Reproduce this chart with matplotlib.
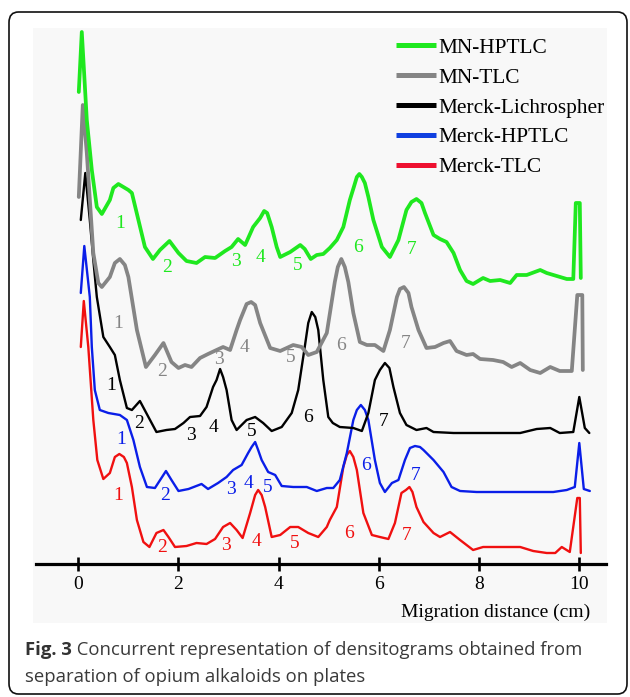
import matplotlib
matplotlib.use("Agg")
import matplotlib.pyplot as plt
from matplotlib.patches import FancyBboxPatch, Rectangle

W, H = 630, 697
DPI = 100

# ---------------- data (x: migration distance in cm, y: detector signal, arbitrary units) ----
green_x = [0.01, 0.07, 0.17, 0.27, 0.37, 0.47, 0.63, 0.70, 0.80, 0.90, 1.00, 1.07, 1.20, 1.33, 1.49,
           1.63, 1.82, 2.00, 2.16, 2.36, 2.53, 2.73, 2.93, 3.06, 3.19, 3.33, 3.49, 3.63, 3.71, 3.77,
           3.86, 3.96, 4.03, 4.23, 4.43, 4.52, 4.64, 4.76, 4.89, 5.02, 5.16, 5.29, 5.42, 5.50, 5.56,
           5.61, 5.66, 5.72, 5.79, 5.89, 6.06, 6.22, 6.39, 6.55, 6.65, 6.75, 6.85, 6.92, 7.09, 7.22,
           7.35, 7.49, 7.62, 7.75, 7.88, 8.08, 8.22, 8.42, 8.62, 8.75, 8.95, 9.22, 9.35, 9.55, 9.75,
           9.88, 9.93, 10.01, 10.03]
green_y = [472, 532, 444, 394, 357, 350, 364, 376, 380, 377, 374, 371, 344, 317, 305,
           314, 323, 311, 303, 301, 307, 306, 313, 317, 325, 319, 337, 346, 353, 351,
           337, 317, 307, 312, 319, 315, 305, 309, 310, 316, 324, 337, 364, 377, 387,
           390, 387, 381, 367, 344, 317, 307, 324, 354, 362, 365, 361, 351, 329, 325,
           322, 311, 294, 283, 280, 286, 283, 284, 281, 289, 289, 294, 291, 288, 285,
           285, 361, 361, 286]

gray_x = [0.01, 0.09, 0.17, 0.30, 0.40, 0.47, 0.63, 0.73, 0.83, 0.93, 1.00, 1.17, 1.35, 1.53, 1.70,
          1.86, 2.00, 2.13, 2.26, 2.43, 2.59, 2.76, 2.89, 3.03, 3.16, 3.23, 3.36, 3.45, 3.53, 3.63,
          3.83, 4.03, 4.29, 4.46, 4.59, 4.76, 4.96, 5.12, 5.18, 5.25, 5.32, 5.39, 5.49, 5.62, 5.76,
          5.92, 6.09, 6.22, 6.36, 6.42, 6.50, 6.59, 6.65, 6.79, 6.95, 7.12, 7.29, 7.42, 7.55, 7.75,
          7.88, 8.02, 8.28, 8.48, 8.65, 8.82, 9.02, 9.22, 9.42, 9.61, 9.85, 9.96, 10.06, 10.07]
gray_y = [367, 459, 411, 311, 281, 277, 287, 301, 305, 299, 287, 234, 197, 209, 221,
          202, 196, 199, 197, 206, 210, 214, 217, 214, 234, 244, 260, 262, 259, 241,
          216, 213, 219, 217, 209, 212, 231, 282, 297, 305, 297, 282, 251, 222, 219,
          219, 213, 234, 267, 275, 277, 271, 257, 234, 216, 217, 221, 223, 213, 209,
          210, 205, 204, 202, 197, 201, 194, 191, 197, 193, 193, 269, 269, 194]

black_x = [0.05, 0.14, 0.23, 0.30, 0.37, 0.50, 0.63, 0.73, 0.83, 0.97, 1.07, 1.23, 1.40, 1.56, 1.76,
           1.93, 2.10, 2.23, 2.43, 2.56, 2.69, 2.76, 2.83, 2.89, 2.96, 3.06, 3.16, 3.36, 3.53, 3.69,
           3.86, 4.06, 4.26, 4.39, 4.52, 4.59, 4.66, 4.73, 4.79, 4.89, 4.99, 5.08, 5.22, 5.49, 5.66,
           5.79, 5.92, 6.02, 6.12, 6.21, 6.29, 6.42, 6.55, 6.75, 6.95, 7.09, 7.49, 8.15, 8.82, 9.15,
           9.42, 9.61, 9.88, 10.00, 10.11, 10.20]
black_y = [344, 391, 344, 304, 267, 227, 217, 209, 184, 156, 154, 163, 147, 132, 134,
           135, 141, 147, 148, 157, 177, 184, 195, 187, 174, 144, 134, 144, 147, 141,
           133, 137, 151, 174, 217, 241, 252, 247, 234, 184, 147, 141, 137, 136, 133,
           151, 184, 194, 201, 196, 177, 151, 139, 134, 136, 132, 131, 131, 131, 135,
           136, 131, 132, 167, 136, 131]

blue_x = [0.05, 0.12, 0.23, 0.27, 0.33, 0.43, 0.60, 0.83, 0.97, 1.10, 1.23, 1.37, 1.53, 1.75, 1.86,
          2.00, 2.20, 2.46, 2.59, 2.79, 2.96, 3.09, 3.26, 3.39, 3.46, 3.53, 3.59, 3.66, 3.79, 3.93,
          4.06, 4.29, 4.56, 4.76, 4.96, 5.09, 5.22, 5.36, 5.49, 5.56, 5.64, 5.72, 5.79, 5.92, 6.02,
          6.12, 6.26, 6.39, 6.52, 6.62, 6.72, 6.82, 6.89, 7.09, 7.29, 7.45, 7.62, 7.95, 8.82, 9.48,
          9.75, 9.91, 10.00, 10.09, 10.21]
blue_y = [271, 318, 267, 217, 174, 154, 151, 149, 144, 124, 97, 77, 76, 93, 84,
          73, 75, 80, 75, 81, 87, 94, 99, 111, 117, 122, 114, 104, 92, 89,
          78, 77, 77, 73, 76, 76, 84, 111, 144, 154, 159, 154, 144, 104, 81,
          72, 81, 84, 104, 116, 118, 117, 114, 104, 92, 77, 73, 72, 72, 72,
          74, 77, 121, 75, 73]

red_x = [0.05, 0.11, 0.20, 0.30, 0.38, 0.50, 0.63, 0.73, 0.82, 0.91, 0.97, 1.07, 1.17, 1.30, 1.42,
         1.56, 1.70, 1.80, 1.93, 2.16, 2.36, 2.56, 2.73, 2.89, 3.03, 3.16, 3.28, 3.43, 3.53, 3.59,
         3.66, 3.73, 3.86, 4.03, 4.23, 4.39, 4.59, 4.79, 4.96, 5.02, 5.16, 5.29, 5.36, 5.42, 5.49,
         5.56, 5.69, 5.86, 6.02, 6.19, 6.32, 6.45, 6.54, 6.61, 6.67, 6.75, 6.89, 7.09, 7.22, 7.42,
         7.62, 7.88, 8.08, 8.28, 8.55, 8.82, 9.08, 9.35, 9.52, 9.65, 9.81, 9.96, 10.01, 10.03]
red_y = [217, 263, 217, 144, 104, 85, 91, 107, 110, 107, 101, 77, 44, 22, 17,
         31, 34, 27, 17, 18, 21, 20, 25, 37, 41, 34, 26, 51, 69, 74,
         69, 57, 27, 29, 37, 37, 31, 27, 37, 44, 57, 97, 109, 113, 107,
         94, 51, 29, 27, 25, 41, 71, 74, 77, 72, 57, 42, 31, 27, 32,
         24, 14, 17, 17, 17, 17, 13, 11, 11, 17, 12, 66, 66, 11]

series_names = ["MN-HPTLC", "MN-TLC", "Merck-Lichrospher", "Merck-HPTLC", "Merck-TLC"]
series_colors = ["#1fe81f", "#858585", "#000000", "#0a1ee8", "#f01010"]
legend_colors = ["#1fe81f", "#858585", "#000000", "#1040e0", "#ee1030"]

peak_labels = ["1", "2", "3", "4", "5", "6", "7"]
green_lab_x = [0.83, 1.78, 3.14, 3.63, 4.37, 5.59, 6.65]
green_lab_y = [340, 297, 302, 307, 299, 316, 314]
gray_lab_x = [0.80, 1.68, 2.81, 3.31, 4.23, 5.24, 6.54]
gray_lab_y = [241, 193, 204, 217, 206, 219, 220]
black_lab_x = [0.65, 1.22, 2.24, 2.69, 3.46, 4.59, 6.09]
black_lab_y = [179, 140, 129, 137, 132, 146, 142]
blue_lab_x = [0.85, 1.74, 3.04, 3.40, 3.79, 5.74, 6.74]
blue_lab_y = [124, 68, 75, 81, 76, 99, 89]
red_lab_x = [0.80, 1.68, 2.94, 3.56, 4.31, 5.41, 6.55]
red_lab_y = [69, 16, 19, 22, 21, 31, 29]

x_ticks = [0, 2, 4, 6, 8, 10]
x_label = "Migration distance (cm)"
caption_bold = "Fig. 3"
caption_line1 = " Concurrent representation of densitograms obtained from"
caption_line2 = "separation of opium alkaloids on plates"

# ---------------- figure ------------------------------------------------------------------
fig = plt.figure(figsize=(W / DPI, H / DPI), dpi=DPI)
fig.patch.set_facecolor("white")

def fx(px):
    return px / W

def fy(py):
    return 1 - py / H

# outer rounded frame
frame = FancyBboxPatch((fx(9), fy(694)), fx(627) - fx(9), fy(12) - fy(694),
                       boxstyle="round,pad=0,rounding_size=0.015",
                       transform=fig.transFigure, facecolor="white", edgecolor="#111111",
                       linewidth=1.2, zorder=-2)
fig.patches.append(frame)
# light panel behind the chart image
panel = Rectangle((fx(33), fy(623)), fx(607) - fx(33), fy(28) - fy(623),
                  transform=fig.transFigure, facecolor="#f8f8f8", edgecolor="none", zorder=-1)
fig.patches.append(panel)

serif = ["Liberation Serif", "DejaVu Serif"]

ax = fig.add_axes([fx(36), fy(564), fx(606) - fx(36), fy(20) - fy(564)])
ax.set_zorder(2)
ax.patch.set_visible(False)
ax.set_xlim(-0.844, 10.533)
ax.set_ylim(0, 544)

curves = [(green_x, green_y, 2.7), (gray_x, gray_y, 2.7), (black_x, black_y, 1.7),
          (blue_x, blue_y, 1.7), (red_x, red_y, 1.7)]
handles = []
for i, ((xs, ys, lw), name, col) in enumerate(zip(curves, series_names, series_colors)):
    ax.plot(xs, ys, color=col, lw=lw, solid_joinstyle="round", solid_capstyle="round",
            zorder=3 + (4 - i) * 0.1, clip_on=False)
    h, = ax.plot([], [], color=legend_colors[i], lw=3.6, solid_capstyle="butt", label=name)
    handles.append(h)

lab_sets = [(green_lab_x, green_lab_y), (gray_lab_x, gray_lab_y), (black_lab_x, black_lab_y),
            (blue_lab_x, blue_lab_y), (red_lab_x, red_lab_y)]
for (lx, ly), col in zip(lab_sets, series_colors):
    for t, xv, yv in zip(peak_labels, lx, ly):
        ax.text(xv, yv, t, color=col, fontsize=14, family=serif, ha="center", va="center", zorder=5)

for s in ["top", "left", "right"]:
    ax.spines[s].set_visible(False)
ax.spines["bottom"].set_linewidth(2.3)
ax.spines["bottom"].set_position(("data", 0))
ax.set_yticks([])
ax.set_xticks(x_ticks)
ax.set_xticklabels([str(t) for t in x_ticks], family=serif, fontsize=14)
ax.tick_params(axis="x", direction="inout", length=9.5, width=1.9, pad=4)

fig.text(fx(590), fy(612), x_label, ha="right", va="center", fontsize=14, family=serif)

leg = ax.legend(handles=handles, loc="upper left", bbox_to_anchor=(fx(396), fy(38)),
                bbox_transform=fig.transFigure, frameon=False, prop={"family": serif, "size": 15.4},
                handlelength=1.85, handletextpad=0.15, labelspacing=0.46, borderpad=0,
                borderaxespad=0)

# caption
sans = ["Open Sans", "DejaVu Sans"]
cap_size = 13.3
t1 = fig.text(fx(25), fy(650), caption_bold, ha="left", va="center", fontsize=cap_size,
              family=sans, weight="bold", color="#333333")
fig.canvas.draw()
bb = t1.get_window_extent()
fig.text(bb.x1 / W, fy(650), caption_line1, ha="left", va="center", fontsize=cap_size,
         family=sans, color="#3a3a3a")
fig.text(fx(25), fy(677), caption_line2, ha="left", va="center", fontsize=cap_size,
         family=sans, color="#3a3a3a")

fig.savefig("out.png", dpi=DPI)
